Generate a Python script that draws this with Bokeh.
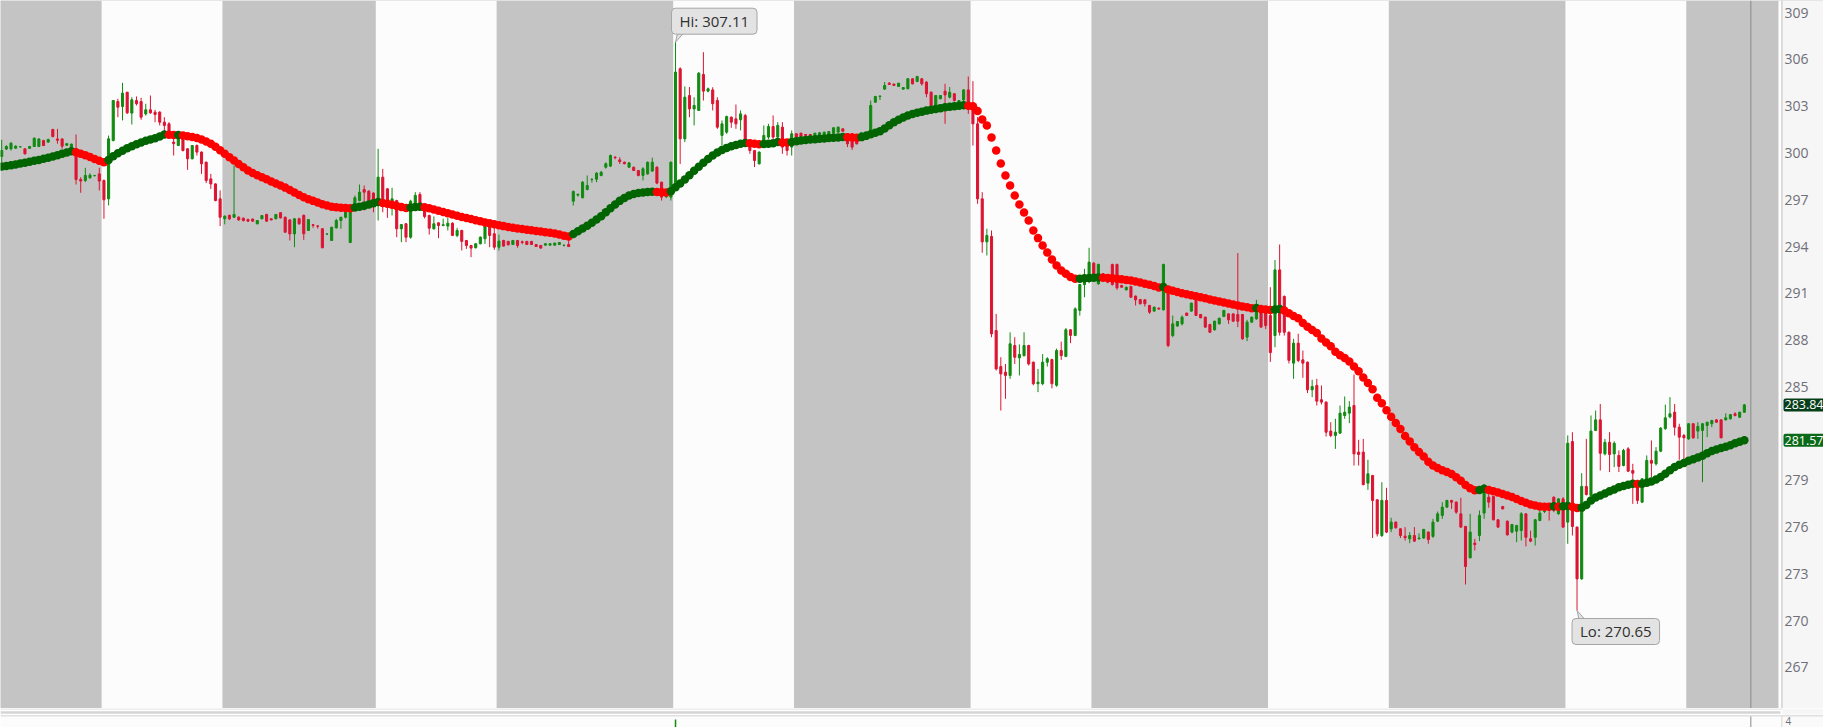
from bokeh.plotting import figure
from bokeh.models import Range1d, FixedTicker, BoxAnnotation, Span, Label, ColumnDataSource
from bokeh.layouts import column
from bokeh.embed import file_html
from bokeh.resources import INLINE

# ---------------- data (15-minute bars) ----------------
opens = [
    299.78, 300.25, 300.27, 300.31, 300.40, 300.27, 300.30, 300.42, 300.42, 300.80,
    300.70, 301.51, 300.90, 300.90, 300.50, 300.38, 300.16, 298.30, 298.24, 298.41,
    298.55, 298.66, 298.24, 297.06, 300.80, 303.30, 302.98, 303.90, 302.56, 303.37,
    303.30, 302.51, 302.77, 302.62, 302.62, 301.98, 301.87, 300.70, 300.48, 301.12,
    300.27, 299.63, 300.48, 300.06, 299.41, 298.34, 298.02, 297.06, 295.78, 296.00,
    295.88, 295.88, 295.82, 295.74, 295.76, 295.46, 295.78, 296.06, 295.78, 295.78,
    296.17, 295.88, 295.71, 294.81, 295.78, 296.00, 295.03, 295.40, 295.32, 295.14,
    294.80, 294.39, 295.20, 295.67, 295.88, 294.26, 296.63, 296.95, 297.66, 297.55,
    297.43, 296.85, 298.45, 297.70, 296.53, 296.95, 295.14, 295.46, 294.60, 296.74,
    297.34, 296.42, 295.99, 295.14, 295.52, 295.35, 295.31, 295.50, 294.71, 295.03,
    294.39, 294.07, 293.92, 294.18, 294.50, 295.35, 294.82, 293.96, 294.39, 294.33,
    294.13, 294.39, 294.30, 294.33, 294.33, 294.13, 294.07, 294.09, 294.09, 294.09,
    294.13, 294.07, 294.13, 296.91, 297.30, 297.13, 297.66, 298.30, 298.32, 298.56,
    299.09, 299.16, 299.73, 299.56, 299.41, 299.09, 299.09, 298.88, 298.56, 298.66,
    298.84, 299.09, 298.13, 297.20, 297.17, 297.81, 305.40, 300.91, 303.69, 302.83,
    302.73, 305.04, 303.97, 304.05, 303.37, 301.13, 301.34, 302.30, 302.19, 302.13,
    302.40, 300.70, 300.16, 299.31, 300.70, 301.02, 301.70, 301.02, 301.66, 300.59,
    300.38, 301.23, 301.27, 301.19, 301.19, 301.13, 301.19, 301.19, 301.19, 301.27,
    301.34, 301.55, 301.23, 301.23, 301.13, 301.10, 301.02, 301.34, 303.26, 303.63,
    304.10, 304.48, 304.42, 304.27, 304.10, 304.12, 304.76, 304.59, 304.76, 304.55,
    303.90, 303.05, 303.48, 303.97, 303.58, 303.80, 303.16, 303.41, 304.05, 302.94,
    301.87, 297.06, 294.30, 294.65, 288.61, 286.30, 285.94, 285.73, 287.65, 286.86,
    287.00, 287.65, 286.58, 285.20, 285.20, 286.58, 286.75, 285.10, 287.33, 286.95,
    288.66, 288.30, 289.90, 291.56, 291.82, 292.93, 291.61, 292.25, 292.03, 292.85,
    292.85, 291.50, 291.22, 291.44, 290.82, 290.60, 290.58, 290.22, 289.86, 290.05,
    289.94, 291.00, 288.29, 288.90, 289.04, 289.73, 289.86, 290.54, 289.64, 289.47,
    289.00, 288.66, 289.04, 289.51, 289.68, 289.68, 289.64, 289.64, 288.19, 289.15,
    289.36, 289.94, 289.90, 289.58, 288.29, 292.50, 290.80, 288.50, 286.52, 287.80,
    286.73, 286.58, 284.81, 285.09, 284.17, 284.02, 282.16, 281.88, 282.03, 283.16,
    283.31, 283.80, 280.81, 280.81, 278.82, 279.31, 277.75, 275.46, 277.71, 275.89,
    276.32, 275.89, 275.42, 275.25, 275.46, 275.25, 275.30, 275.68, 275.40, 276.38,
    276.75, 277.28, 277.71, 277.60, 276.85, 276.04, 274.03, 274.97, 275.46, 276.90,
    277.92, 277.96, 276.47, 277.32, 276.38, 275.68, 275.74, 275.78, 276.85, 275.25,
    275.35, 276.42, 277.00, 277.28, 277.92, 276.85, 277.81, 276.32, 281.49, 276.00,
    272.68, 278.61, 278.03, 282.20, 282.88, 280.70, 281.44, 280.70, 280.60, 279.95,
    281.02, 279.63, 278.88, 277.60, 279.00, 280.28, 280.06, 280.87, 282.32, 283.07,
    283.37, 282.41, 281.88, 281.66, 282.63, 282.16, 282.20, 282.52, 282.63, 282.88,
    282.88, 282.88, 282.95, 283.27, 283.05, 283.37,
]
highs = [
    300.85, 300.50, 300.70, 300.50, 300.45, 300.30, 300.45, 301.00, 300.95, 300.85,
    300.92, 301.55, 301.55, 300.95, 300.65, 300.60, 301.19, 298.45, 299.05, 298.70,
    298.60, 299.05, 298.30, 301.12, 303.40, 303.48, 304.50, 303.92, 303.58, 303.63,
    303.54, 303.16, 303.69, 302.77, 302.68, 302.30, 301.98, 301.12, 301.36, 301.15,
    300.30, 300.50, 300.55, 300.10, 299.45, 298.66, 298.05, 297.60, 296.00, 296.05,
    299.20, 295.95, 295.86, 295.78, 295.80, 295.70, 296.02, 296.10, 295.80, 296.08,
    296.20, 295.92, 295.75, 295.82, 295.85, 296.05, 295.75, 295.45, 295.38, 295.18,
    294.85, 295.26, 295.78, 295.90, 296.42, 296.31, 297.28, 297.98, 297.92, 297.62,
    297.48, 300.27, 298.98, 297.75, 297.77, 297.00, 295.45, 295.50, 297.00, 297.49,
    297.49, 296.72, 296.05, 295.93, 295.56, 295.78, 295.84, 295.55, 295.20, 295.08,
    294.42, 294.10, 294.20, 294.65, 295.45, 295.45, 295.35, 294.77, 294.43, 294.36,
    294.42, 294.42, 294.38, 294.36, 294.36, 294.16, 294.10, 294.20, 294.20, 294.24,
    294.28, 294.15, 294.43, 297.60, 297.40, 298.20, 298.56, 298.40, 298.77, 298.85,
    299.40, 299.90, 299.80, 299.73, 299.45, 299.40, 299.12, 298.90, 299.09, 299.45,
    299.70, 299.15, 298.15, 297.70, 299.45, 307.11, 305.50, 304.27, 304.23, 303.58,
    305.20, 306.47, 304.20, 304.22, 303.58, 302.09, 302.40, 302.34, 303.11, 302.73,
    302.51, 300.80, 300.20, 300.10, 301.77, 301.87, 302.41, 301.98, 301.98, 300.70,
    301.45, 301.27, 301.30, 301.22, 301.22, 301.30, 301.32, 301.36, 301.40, 301.65,
    301.70, 301.58, 301.26, 301.26, 301.16, 301.33, 301.38, 303.37, 303.66, 303.70,
    304.55, 304.55, 304.45, 304.50, 304.22, 304.80, 304.80, 304.95, 304.80, 304.60,
    303.95, 303.72, 303.72, 304.44, 304.23, 303.85, 303.40, 304.10, 304.91, 304.61,
    302.30, 297.49, 295.14, 295.03, 289.68, 286.90, 286.47, 288.50, 288.18, 287.72,
    288.50, 287.70, 286.62, 286.15, 287.10, 286.90, 286.80, 287.45, 287.90, 288.77,
    288.70, 290.10, 291.60, 292.57, 293.92, 293.00, 292.90, 292.30, 292.08, 292.90,
    292.90, 291.55, 291.42, 291.48, 290.86, 290.64, 290.62, 290.26, 290.15, 290.08,
    292.90, 291.05, 289.57, 289.22, 289.58, 289.76, 290.40, 290.58, 289.68, 289.50,
    289.04, 289.24, 289.44, 289.94, 289.72, 289.72, 293.58, 289.68, 289.30, 289.50,
    290.58, 289.98, 290.00, 291.39, 293.13, 294.13, 290.86, 288.55, 288.08, 288.40,
    287.33, 286.62, 285.45, 285.51, 285.09, 284.06, 282.73, 282.95, 283.80, 284.38,
    284.08, 285.79, 281.60, 281.66, 280.32, 279.35, 277.80, 278.88, 278.52, 276.60,
    276.36, 275.93, 276.00, 275.68, 276.00, 275.60, 275.89, 275.72, 276.53, 277.00,
    277.60, 277.75, 277.75, 277.64, 277.88, 276.08, 276.85, 275.25, 277.07, 278.77,
    278.56, 278.00, 276.50, 277.36, 276.42, 276.20, 276.15, 276.96, 276.90, 275.78,
    276.53, 277.17, 277.17, 277.30, 277.96, 277.85, 277.92, 281.88, 282.09, 276.04,
    279.46, 281.66, 283.16, 283.48, 283.90, 281.66, 282.09, 281.50, 280.92, 281.02,
    281.13, 280.06, 279.03, 279.12, 280.60, 281.56, 281.13, 282.41, 283.86, 284.34,
    283.90, 282.63, 281.98, 282.65, 282.67, 282.73, 282.67, 282.75, 282.88, 282.92,
    282.92, 283.30, 283.26, 283.37, 283.40, 283.90,
]
lows = [
    299.41, 300.20, 300.16, 300.28, 300.36, 299.90, 300.28, 300.40, 300.38, 300.45,
    300.65, 301.00, 300.60, 300.27, 300.45, 300.35, 297.98, 297.45, 298.13, 298.35,
    298.50, 297.60, 295.78, 296.64, 300.75, 302.30, 302.09, 302.50, 301.83, 303.05,
    302.13, 302.40, 302.51, 301.98, 301.77, 301.38, 301.02, 299.84, 300.46, 300.10,
    298.92, 299.60, 299.84, 298.66, 298.07, 297.70, 296.90, 295.31, 295.42, 295.70,
    295.85, 295.65, 295.60, 295.58, 295.60, 295.42, 295.75, 295.60, 295.68, 295.75,
    295.80, 294.88, 294.39, 293.96, 295.40, 294.43, 295.00, 295.20, 295.15, 293.90,
    294.75, 294.36, 295.15, 295.14, 295.80, 294.22, 296.53, 296.90, 296.31, 296.85,
    296.20, 295.67, 296.20, 295.84, 295.99, 294.60, 294.28, 294.28, 294.50, 296.65,
    296.50, 295.80, 294.77, 295.08, 294.54, 295.30, 295.03, 294.70, 294.60, 293.75,
    293.85, 293.32, 293.88, 294.14, 294.17, 293.96, 293.79, 293.75, 294.00, 294.08,
    294.10, 293.92, 294.15, 294.10, 294.10, 293.97, 293.87, 294.07, 294.07, 294.07,
    294.10, 294.00, 294.00, 296.63, 297.20, 297.10, 297.60, 298.10, 298.13, 298.50,
    299.00, 299.10, 299.60, 299.30, 299.28, 299.05, 298.85, 298.50, 298.24, 298.60,
    298.80, 298.00, 296.95, 297.10, 296.95, 297.70, 299.30, 300.70, 302.30, 301.77,
    302.70, 303.37, 303.90, 302.73, 301.55, 300.48, 301.23, 301.62, 301.55, 301.45,
    300.80, 299.95, 299.10, 299.26, 300.59, 300.90, 300.90, 300.48, 299.95, 299.84,
    299.84, 300.98, 300.97, 301.10, 301.10, 301.10, 301.17, 301.17, 301.17, 301.25,
    301.30, 301.38, 300.38, 300.20, 300.55, 301.08, 301.00, 301.30, 303.24, 303.40,
    304.05, 304.38, 304.30, 304.25, 304.05, 304.10, 304.40, 304.55, 304.33, 303.58,
    303.00, 303.00, 303.45, 301.87, 303.50, 303.30, 303.10, 302.94, 302.51, 300.48,
    296.74, 293.60, 293.43, 288.18, 286.05, 283.48, 284.23, 285.51, 286.47, 285.73,
    286.95, 286.37, 285.10, 284.66, 285.10, 286.30, 284.90, 285.00, 286.73, 286.90,
    287.80, 288.25, 289.57, 290.75, 291.65, 292.05, 291.55, 291.88, 291.65, 291.50,
    291.22, 291.35, 291.18, 290.70, 290.22, 290.28, 290.15, 289.68, 289.82, 289.95,
    289.90, 287.54, 288.18, 288.86, 288.94, 289.55, 289.82, 289.54, 289.40, 288.80,
    288.46, 288.60, 289.00, 289.47, 289.04, 289.18, 288.83, 288.02, 287.93, 289.10,
    289.30, 288.80, 288.70, 286.60, 287.54, 288.29, 288.29, 286.50, 285.51, 286.58,
    285.58, 284.60, 284.34, 283.80, 283.87, 281.81, 281.77, 281.02, 281.98, 282.95,
    282.67, 279.95, 279.95, 278.67, 278.39, 275.30, 275.40, 275.36, 275.61, 275.68,
    275.90, 275.30, 275.14, 274.97, 275.06, 275.20, 275.25, 274.93, 275.31, 276.32,
    276.53, 277.24, 277.17, 276.85, 275.96, 272.32, 274.00, 274.50, 275.10, 276.53,
    277.24, 276.43, 275.96, 277.13, 275.46, 275.60, 275.03, 275.14, 274.76, 275.03,
    274.82, 276.38, 276.90, 276.42, 276.96, 276.80, 275.96, 274.93, 275.46, 270.65,
    272.62, 278.03, 277.92, 282.16, 279.63, 280.60, 279.53, 279.85, 279.53, 279.90,
    279.53, 277.49, 277.49, 277.54, 278.95, 279.20, 279.95, 280.81, 282.24, 282.98,
    281.88, 280.32, 280.28, 281.60, 281.66, 281.66, 278.88, 281.77, 282.41, 282.70,
    281.70, 282.84, 282.90, 283.10, 283.00, 283.33,
]
closes = [
    300.16, 300.42, 300.63, 300.44, 300.40, 299.95, 300.42, 300.95, 300.90, 300.48,
    300.87, 301.06, 300.82, 300.44, 300.60, 300.57, 298.30, 298.20, 298.56, 298.58,
    298.55, 298.20, 297.00, 300.91, 303.37, 302.94, 303.84, 302.58, 303.41, 303.16,
    302.30, 302.77, 302.58, 302.47, 301.98, 301.77, 301.34, 300.60, 301.34, 300.16,
    299.63, 300.48, 300.06, 299.31, 298.24, 298.02, 296.95, 295.88, 295.95, 295.78,
    296.06, 295.71, 295.67, 295.63, 295.63, 295.67, 295.99, 295.63, 295.71, 296.06,
    295.84, 294.92, 294.81, 295.78, 295.46, 294.82, 295.73, 295.36, 295.30, 293.92,
    294.80, 295.24, 295.67, 295.88, 296.20, 296.24, 297.13, 297.49, 297.49, 296.95,
    296.79, 298.45, 297.06, 296.53, 297.06, 295.14, 295.41, 294.60, 296.91, 297.28,
    296.74, 295.93, 295.18, 295.46, 295.35, 295.40, 295.50, 294.71, 295.03, 294.33,
    294.07, 293.90, 294.18, 294.60, 295.35, 294.71, 293.96, 294.35, 294.03, 294.11,
    294.39, 294.07, 294.26, 294.13, 294.13, 294.00, 293.90, 294.18, 294.18, 294.22,
    294.26, 294.07, 294.00, 297.53, 297.35, 298.13, 297.92, 298.30, 298.71, 298.77,
    299.31, 299.84, 299.70, 299.45, 299.31, 299.37, 298.88, 298.56, 298.99, 299.41,
    299.41, 298.07, 297.17, 297.50, 299.41, 305.19, 300.91, 303.58, 302.83, 303.05,
    305.12, 303.97, 304.12, 303.16, 301.66, 301.87, 302.34, 301.98, 301.87, 302.51,
    300.85, 300.16, 299.52, 300.06, 301.13, 301.70, 301.02, 301.77, 300.38, 300.16,
    301.23, 301.02, 301.06, 301.13, 301.13, 301.27, 301.30, 301.34, 301.38, 301.62,
    301.66, 301.40, 300.59, 300.38, 300.59, 301.30, 301.34, 303.05, 303.63, 303.65,
    304.33, 304.40, 304.33, 304.48, 304.20, 304.76, 304.44, 304.91, 304.44, 303.80,
    303.05, 303.69, 303.69, 303.73, 303.90, 303.37, 303.37, 304.05, 303.05, 301.87,
    297.06, 294.30, 294.71, 288.40, 286.15, 285.83, 285.73, 287.76, 286.90, 287.08,
    287.65, 286.47, 285.20, 285.30, 286.58, 286.80, 285.20, 287.33, 287.00, 288.66,
    288.30, 290.00, 291.56, 292.03, 293.00, 292.14, 292.85, 291.93, 291.71, 291.56,
    291.35, 291.39, 291.39, 290.75, 290.58, 290.33, 290.33, 289.79, 290.11, 289.99,
    292.85, 287.65, 289.04, 289.19, 289.47, 289.58, 290.37, 289.58, 289.43, 288.83,
    288.50, 289.21, 289.40, 289.90, 289.30, 289.21, 289.21, 288.08, 289.15, 289.47,
    290.22, 288.83, 288.93, 287.20, 292.50, 288.50, 288.50, 286.70, 287.80, 286.69,
    286.52, 284.81, 285.02, 284.08, 284.02, 282.09, 281.88, 282.09, 283.31, 283.37,
    283.70, 280.70, 280.66, 278.73, 279.42, 277.71, 275.57, 277.71, 275.68, 276.32,
    275.96, 275.46, 275.32, 275.46, 275.10, 275.30, 275.85, 275.20, 276.32, 276.85,
    277.28, 277.71, 277.60, 276.96, 276.00, 273.47, 275.68, 274.88, 276.75, 278.67,
    277.60, 276.47, 276.00, 277.17, 275.50, 276.17, 276.10, 276.85, 275.35, 275.10,
    276.47, 276.90, 277.05, 277.17, 277.07, 277.81, 276.00, 281.38, 276.04, 272.68,
    278.61, 278.09, 282.16, 282.88, 280.74, 281.44, 280.66, 281.38, 279.90, 280.92,
    279.59, 279.46, 277.71, 279.10, 280.28, 280.10, 280.87, 282.35, 283.01, 283.27,
    282.41, 281.77, 281.73, 282.63, 281.73, 282.46, 282.63, 282.73, 282.84, 282.73,
    281.73, 283.01, 283.22, 283.16, 283.37, 283.84,
]
# moving-average study value at every bar
ma_values = [
    299.13, 299.17, 299.22, 299.27, 299.32, 299.38, 299.44, 299.50, 299.56, 299.63,
    299.70, 299.78, 299.86, 299.95, 300.04, 300.12, 300.05, 299.96, 299.86, 299.74,
    299.62, 299.50, 299.41, 299.56, 299.80, 299.98, 300.14, 300.30, 300.44, 300.57,
    300.68, 300.78, 300.87, 300.95, 301.06, 301.19, 301.17, 301.15, 301.16, 301.12,
    301.08, 301.03, 300.97, 300.87, 300.74, 300.59, 300.40, 300.18, 299.95, 299.73,
    299.52, 299.30, 299.08, 298.88, 298.72, 298.58, 298.45, 298.32, 298.18, 298.05,
    297.92, 297.78, 297.62, 297.46, 297.30, 297.16, 297.04, 296.93, 296.82, 296.72,
    296.64, 296.56, 296.52, 296.49, 296.47, 296.46, 296.50, 296.56, 296.62, 296.70,
    296.78, 296.85, 296.80, 296.74, 296.68, 296.60, 296.53, 296.48, 296.51, 296.54,
    296.56, 296.52, 296.45, 296.37, 296.29, 296.21, 296.13, 296.05, 295.97, 295.90,
    295.83, 295.76, 295.69, 295.62, 295.55, 295.49, 295.43, 295.37, 295.31, 295.25,
    295.20, 295.16, 295.12, 295.08, 295.04, 295.00, 294.96, 294.92, 294.88, 294.83,
    294.77, 294.70, 294.64, 294.80, 294.98, 295.16, 295.34, 295.53, 295.73, 295.95,
    296.20, 296.45, 296.70, 296.93, 297.12, 297.27, 297.37, 297.43, 297.47, 297.50,
    297.52, 297.50, 297.48, 297.46, 297.55, 297.80, 298.05, 298.30, 298.58, 298.86,
    299.12, 299.38, 299.62, 299.84, 300.03, 300.20, 300.33, 300.43, 300.52, 300.59,
    300.64, 300.62, 300.59, 300.56, 300.58, 300.60, 300.63, 300.70, 300.68, 300.67,
    300.70, 300.75, 300.80, 300.83, 300.86, 300.89, 300.91, 300.93, 300.96, 300.98,
    301.00, 301.03, 301.01, 300.99, 300.98, 301.02, 301.10, 301.20, 301.30, 301.40,
    301.58, 301.78, 301.97, 302.14, 302.28, 302.40, 302.50, 302.58, 302.65, 302.72,
    302.78, 302.83, 302.88, 302.93, 302.97, 303.00, 303.03, 303.06, 303.04, 303.00,
    302.69, 302.15, 301.77, 300.99, 300.16, 299.33, 298.56, 297.92, 297.27, 296.70,
    296.18, 295.67, 295.03, 294.54, 294.07, 293.62, 293.17, 292.78, 292.46, 292.25,
    292.05, 291.93, 291.94, 291.96, 291.98, 292.00, 292.01, 292.00, 291.98, 291.96,
    291.93, 291.90, 291.86, 291.82, 291.76, 291.69, 291.62, 291.55, 291.47, 291.38,
    291.40, 291.25, 291.16, 291.08, 291.00, 290.94, 290.88, 290.81, 290.75, 290.68,
    290.61, 290.54, 290.47, 290.41, 290.35, 290.28, 290.22, 290.16, 290.10, 290.04,
    290.06, 290.00, 289.96, 289.93, 289.96, 290.00, 289.90, 289.72, 289.55, 289.40,
    289.10, 288.85, 288.65, 288.45, 288.10, 287.85, 287.60, 287.25, 287.03, 286.85,
    286.63, 286.30, 286.00, 285.60, 285.25, 284.85, 284.30, 283.95, 283.50, 283.08,
    282.68, 282.30, 281.85, 281.50, 281.13, 280.82, 280.53, 280.20, 279.96, 279.79,
    279.65, 279.53, 279.40, 279.20, 278.98, 278.70, 278.50, 278.36, 278.38, 278.46,
    278.38, 278.30, 278.22, 278.13, 278.03, 277.93, 277.80, 277.68, 277.56, 277.45,
    277.38, 277.33, 277.31, 277.30, 277.34, 277.30, 277.34, 277.36, 277.30, 277.22,
    277.25, 277.42, 277.70, 277.90, 278.03, 278.15, 278.30, 278.42, 278.55, 278.64,
    278.72, 278.78, 278.76, 278.78, 278.85, 278.92, 279.05, 279.22, 279.42, 279.65,
    279.85, 280.00, 280.12, 280.25, 280.36, 280.46, 280.58, 280.74, 280.88, 280.98,
    281.07, 281.16, 281.25, 281.38, 281.48, 281.57,
]
# first bar of each regular (09:30-16:00) session; 26 bars of 15 min each
session_open_bars = [22, 81, 145, 209, 273, 337]
session_bars = 26
# price-axis labels that are shown (282 is hidden under the last-value tags)
y_ticks = [267, 270, 273, 276, 279, 285, 288, 291, 294, 297, 300, 303, 306, 309]
lower_pane_label = "4"

# ---------------- styling / geometry ----------------
FONT = "Open Sans"
GRAY_BG = "#c4c4c4"
DAY_BG = "#fcfcfc"
AXIS_BG = "#f6f6f6"
UP = "#118a11"
DOWN = "#dc1432"
MA_UP = "#006400"
MA_DOWN = "#ff0000"
AXIS_TEXT = "#6f6f78"

W = 1823
H_MAIN = 708
H_LOW = 19
PX_PER_BAR = 4.647
PX_PER_UNIT = 15.587
x_range = Range1d(-0.26, -0.26 + W / PX_PER_BAR)
y_range = Range1d(309.785 - H_MAIN / PX_PER_UNIT, 309.785)


def px2x(px):
    return x_range.start + px / PX_PER_BAR


AXIS_LEFT_PX = 1782

n = len(opens)
xs = list(range(n))

p = figure(width=W, height=H_MAIN, x_range=x_range, y_range=y_range, title=None,
           toolbar_location=None, output_backend="svg",
           x_axis_location=None, y_axis_location="right",
           min_border_left=0, min_border_top=0, min_border_bottom=0, min_border_right=0,
           background_fill_color=GRAY_BG, border_fill_color=AXIS_BG, outline_line_color=None)
p.grid.visible = False

for s in session_open_bars:
    p.add_layout(BoxAnnotation(left=s - 0.5, right=s + session_bars - 0.5, fill_color=DAY_BG,
                               fill_alpha=1.0, line_color=None, level="underlay"))
# white gap, border line and price-axis background
p.add_layout(BoxAnnotation(left=px2x(1778), right=px2x(1781), fill_color="#ffffff", fill_alpha=1.0,
                           line_color=None, level="underlay"))
p.add_layout(BoxAnnotation(left=px2x(1781), right=px2x(AXIS_LEFT_PX), fill_color="#cdcdcd",
                           fill_alpha=1.0, line_color=None, level="underlay"))
p.add_layout(BoxAnnotation(left=px2x(AXIS_LEFT_PX), fill_color=AXIS_BG, fill_alpha=1.0,
                           line_color=None, level="underlay"))
# "now" marker line of the expansion area
now_x = n - 1 + 1.4
p.add_layout(Span(location=now_x, dimension="height", line_color="#8a8a8a", line_width=1))

colors = [UP if c >= o else DOWN for o, c in zip(opens, closes)]
src = ColumnDataSource(dict(
    x=xs, o=opens, h=highs, l=lows, c=closes,
    top=[max(o, c) for o, c in zip(opens, closes)],
    bottom=[min(o, c) for o, c in zip(opens, closes)],
    color=colors,
))
p.segment(x0="x", y0="l", x1="x", y1="h", line_color="color", line_width=1, source=src)
p.vbar(x="x", width=0.45, top="top", bottom="bottom", fill_color="color",
       line_color="color", line_width=1, source=src)

ma_colors = [MA_UP] + [MA_UP if ma_values[i] > ma_values[i - 1] else MA_DOWN for i in range(1, n)]
p.scatter(x=xs, y=ma_values, size=8.5, marker="circle", fill_color=ma_colors, line_color=None)

# Hi / Lo bubbles
hi_i = max(range(n), key=lambda i: highs[i])
lo_i = min(range(n), key=lambda i: lows[i])
BUB_FILL, BUB_LINE = "#e3e3e3", "#a5a5a5"
dx1, dy1 = 1 / PX_PER_BAR, 1 / PX_PER_UNIT
p.patch(x=[hi_i, hi_i + 2 * dx1, hi_i + 8 * dx1],
        y=[highs[hi_i], highs[hi_i] + 9 * dy1, highs[hi_i] + 9 * dy1],
        fill_color=BUB_FILL, line_color=BUB_LINE, line_width=1)
p.patch(x=[lo_i, lo_i + 2 * dx1, lo_i + 8 * dx1],
        y=[lows[lo_i], lows[lo_i] - 9 * dy1, lows[lo_i] - 9 * dy1],
        fill_color=BUB_FILL, line_color=BUB_LINE, line_width=1)
p.add_layout(Label(x=hi_i, y=highs[hi_i], text=f"Hi: {highs[hi_i]:.2f}",
                   x_offset=-4, y_offset=8, text_align="left", text_baseline="bottom",
                   text_font=FONT, text_font_size="15px", text_color="#303030",
                   background_fill_color=BUB_FILL, border_line_color=BUB_LINE,
                   border_radius=4, padding=dict(left=8, right=8, top=3, bottom=3)))
p.add_layout(Label(x=lo_i, y=lows[lo_i], text=f"Lo: {lows[lo_i]:.2f}",
                   x_offset=-5, y_offset=-8, text_align="left", text_baseline="top",
                   text_font=FONT, text_font_size="15px", text_color="#303030",
                   background_fill_color=BUB_FILL, border_line_color=BUB_LINE,
                   border_radius=4, padding=dict(left=8, right=8, top=3, bottom=3)))

# last-value tags on the price axis
for val, bg in [(closes[-1], "#063e19"), (ma_values[-1], "#0b6a17")]:
    p.add_layout(Label(x=px2x(1783), y=val, text=f"{val:.2f}",
                       text_align="left", text_baseline="middle",
                       text_font=FONT, text_font_size="12.5px", text_color="#ffffff",
                       background_fill_color=bg, border_radius=2,
                       padding=dict(left=1, right=3, top=2, bottom=2)))

ax = p.yaxis[0]
ax.ticker = FixedTicker(ticks=y_ticks)
ax.axis_line_color = None
ax.major_tick_line_color = None
ax.minor_tick_line_color = None
ax.major_tick_out = 0
ax.major_tick_in = 0
ax.minor_tick_out = 0
ax.minor_tick_in = 0
ax.major_label_standoff = (AXIS_LEFT_PX + 2) - W   # labels sit inside the axis strip
ax.major_label_text_font = FONT
ax.major_label_text_font_size = "14px"
ax.major_label_text_color = AXIS_TEXT

# ---------------- strip of the lower study pane ----------------
p2 = figure(width=W, height=H_LOW, x_range=x_range, y_range=Range1d(0, H_LOW), title=None,
            toolbar_location=None, output_backend="svg",
            x_axis_location=None, y_axis_location=None,
            min_border_left=0, min_border_top=0, min_border_bottom=0, min_border_right=0,
            background_fill_color="#ffffff", border_fill_color="#ffffff", outline_line_color=None)
p2.grid.visible = False


def strip(y0, y1, x0, x1, color):
    p2.add_layout(BoxAnnotation(bottom=H_LOW - y1, top=H_LOW - y0, left=px2x(x0), right=px2x(x1),
                                fill_color=color, fill_alpha=1.0, line_color=None, level="underlay"))


strip(0, 1, 0, 1782, "#d9d9d9")
strip(2.7, 5.3, 0, 1780, "#d5d5d5")
strip(0, 6, 1782, W, AXIS_BG)
strip(7, 8, 0, W, "#c2c2c2")
strip(8, H_LOW, 0, 1781, DAY_BG)
strip(8, H_LOW, 1781, 1782, "#c8c8c8")
strip(8, H_LOW, 1782, W, "#fafafa")
p2.segment(x0=[now_x], y0=[0], x1=[now_x], y1=[H_LOW - 8], line_color="#8a8a8a", line_width=1)
# study spike of the opening bar of the high session
p2.segment(x0=[hi_i], y0=[0], x1=[hi_i], y1=[H_LOW - 11], line_color=UP, line_width=1.5)
p2.add_layout(Label(x=px2x(1785), y=3, text=lower_pane_label, text_align="left",
                    text_baseline="bottom", text_font=FONT, text_font_size="10px",
                    text_color=AXIS_TEXT))

layout = column(p, p2, spacing=0)
open("out.html", "w").write(file_html(layout, INLINE))
